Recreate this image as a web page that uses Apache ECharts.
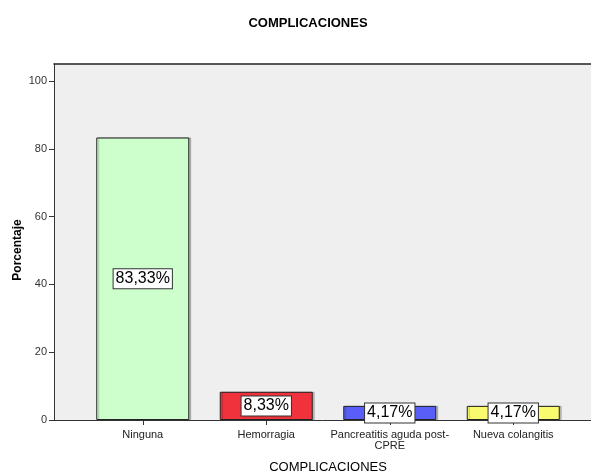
<!DOCTYPE html>
<html><head><meta charset="utf-8">
<script src="https://cdn.jsdelivr.net/npm/echarts@6/dist/echarts.min.js"></script>
<style>html,body{margin:0;padding:0;background:#fff;overflow:hidden}#c{width:591px;height:471px}</style>
</head><body><div id="c"></div>
<script>
const categories = ['Ninguna', 'Hemorragia', 'Pancreatitis aguda post-\nCPRE', 'Nueva colangitis'];
const values = [83.33, 8.33, 4.17, 4.17];
const barColors = ['#ccffcc', '#f0323c', '#5a5ef8', '#fafa6e'];
const yTicks = [0, 20, 40, 60, 80, 100];

const font = 'Liberation Sans, Arial, sans-serif';
const chart = echarts.init(document.getElementById('c'));
chart.setOption({
  animation: false,
  backgroundColor: '#fff',
  title: {
    text: 'COMPLICACIONES', left: 303, top: 12, textAlign: 'center',
    textStyle: { fontFamily: font, fontSize: 13, fontWeight: 'bold', color: '#000' }
  },
  graphic: [{
    type: 'text', x: 18, y: 250, rotation: Math.PI / 2,
    style: { text: 'Porcentaje', align: 'center', verticalAlign: 'middle',
      font: 'bold 12px Liberation Sans, Arial, sans-serif', fill: '#000' }
  }],
  grid: [
    { left: 54, right: -3, top: 64, bottom: 51, show: true, backgroundColor: '#efefef', borderWidth: 0, borderColor: 'transparent', outerBoundsMode: 'none', containLabel: false },
    { left: 81, width: 494, top: 64, bottom: 51, outerBoundsMode: 'none', containLabel: false }
  ],
  xAxis: [
    { gridIndex: 0, type: 'value', min: 0, max: 1, position: 'bottom',
      axisLine: { show: true, lineStyle: { color: '#333', width: 1 } },
      axisTick: { show: false }, axisLabel: { show: false }, splitLine: { show: false } },
    { gridIndex: 0, type: 'value', min: 0, max: 1, position: 'top',
      axisLine: { show: true, lineStyle: { color: '#222', width: 1.5 } },
      axisTick: { show: false }, axisLabel: { show: false }, splitLine: { show: false } },
    { gridIndex: 1, type: 'category', data: categories,
      axisLine: { show: false },
      axisTick: { show: true, alignWithLabel: true, length: 5, lineStyle: { color: '#333' } },
      axisLabel: { interval: 0, fontFamily: font, fontSize: 11, color: '#222', margin: 9, lineHeight: 11 },
      name: 'COMPLICACIONES', nameLocation: 'middle', nameGap: 41,
      nameTextStyle: { fontFamily: font, fontSize: 13, color: '#000' } }
  ],
  yAxis: [
    { gridIndex: 0, type: 'value', min: 0, max: 105,
      axisLine: { show: true, lineStyle: { color: '#333' } },
      axisTick: { show: true, length: 5, customValues: yTicks, lineStyle: { color: '#333' } },
      axisLabel: { customValues: yTicks, fontFamily: font, fontSize: 11, color: '#333', margin: 7 },
      splitLine: { show: false } },
    { gridIndex: 1, type: 'value', min: 0, max: 105, show: false, splitLine: { show: false } }
  ],
  series: [{
    type: 'bar', xAxisIndex: 2, yAxisIndex: 1, barWidth: 93,
    data: values.map((v, i) => ({ value: v, itemStyle: { color: barColors[i] } })),
    itemStyle: { borderColor: '#222', borderWidth: 1, shadowColor: 'rgba(0,0,0,0.2)', shadowOffsetX: 2, shadowBlur: 0 },
    label: {
      show: true, position: 'inside',
      formatter: p => p.value.toFixed(2).replace('.', ',') + '%',
      fontFamily: font, fontSize: 16, color: '#000',
      backgroundColor: '#fff', borderColor: '#333', borderWidth: 1, padding: [2, 2, 1, 2]
    }
  }]
});
</script></body></html>
